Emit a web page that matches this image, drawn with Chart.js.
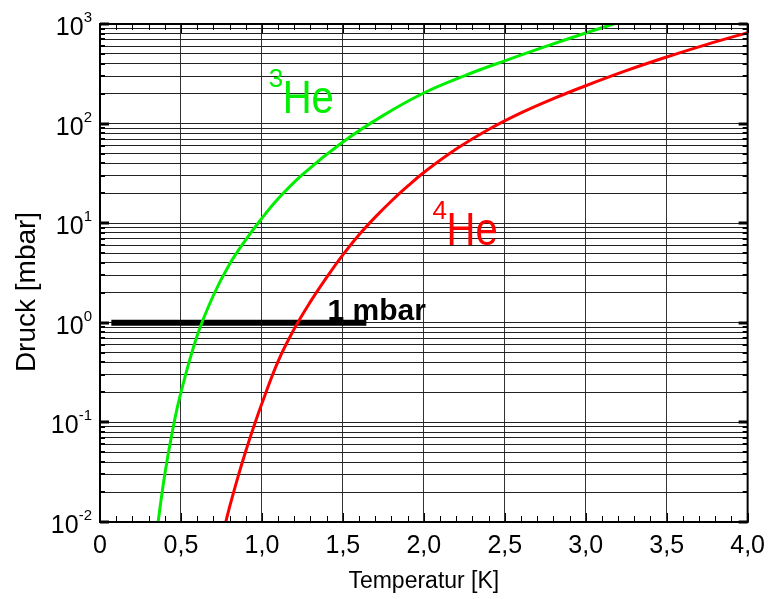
<!DOCTYPE html>
<html lang="de">
<head>
<meta charset="UTF-8">
<title>Dampfdruck 3He / 4He</title>
<script src="https://cdn.jsdelivr.net/npm/chart.js"></script>
<style>
    body { margin: 0; background: #fff; }
    .chart-container { position: relative; width: 774px; height: 599px; }
</style>
</head>
<body>
<div class="chart-container">
    <canvas id="chart"></canvas>
</div>
<script>
    const FONT = "'Liberation Sans', Arial, sans-serif";

    // Dampfdruck, Temperatur in K, Druck in mbar
    const tempHe3 = [0.35, 0.40, 0.45, 0.50, 0.60, 0.70, 0.80, 0.90, 1.00, 1.10, 1.25, 1.50, 1.75, 2.00, 2.25, 2.50, 2.75, 3.00, 3.20];
    const pressHe3 = [0.0078, 0.030, 0.086, 0.20, 0.74, 1.88, 3.87, 6.8, 11.2, 17.6, 30.8, 65.3, 121, 203, 302, 427, 593, 812, 1033];

    const tempHe4 = [0.77, 0.80, 0.85, 0.90, 0.95, 1.00, 1.10, 1.20, 1.30, 1.40, 1.50, 1.60, 1.70, 1.80, 1.90, 2.00, 2.20, 2.40, 2.60, 2.80, 3.00, 3.25, 3.50, 3.75, 4.00];
    const pressHe4 = [0.0090, 0.0141, 0.0276, 0.0513, 0.0908, 0.155, 0.41, 0.87, 1.63, 2.86, 4.8, 7.64, 11.5, 16.7, 23.5, 32.3, 55.5, 87.3, 128, 178, 240, 340, 466, 624, 820];

    // Markierung bei 1 mbar
    const tempMbar = [0.07, 1.645];
    const pressMbar = [1, 1];

    // Achsen
    const xMajorTicks = [0, 0.5, 1.0, 1.5, 2.0, 2.5, 3.0, 3.5, 4.0];
    const yDecades = [-2, -1, 0, 1, 2, 3];

    // Gitterlinien bei 1..9 x 10^n
    const yGridValues = [];
    yDecades.forEach((d, i) => {
        if (i === yDecades.length - 1) {
            yGridValues.push(Math.pow(10, d));
            return;
        }
        for (let m = 1; m <= 9; m++) {
            yGridValues.push(Number((m * Math.pow(10, d)).toPrecision(2)));
        }
    });

    function toPoints(xs, ys) {
        return xs.map((x, i) => ({x: x, y: ys[i]}));
    }

    // Rahmen, Ticks, Beschriftungen
    const decorPlugin = {
        id: 'decor',
        afterDraw(chart) {
            const ctx = chart.ctx;
            const a = chart.chartArea;
            const xs = chart.scales.x;
            const ys = chart.scales.y;
            ctx.save();
            ctx.strokeStyle = '#000';

            // kleine Ticks oben und unten
            ctx.lineWidth = 1;
            ctx.beginPath();
            for (let i = 0; i <= 40; i++) {
                const px = Math.round(xs.getPixelForValue(i / 10)) + 0.5;
                const len = i % 5 === 0 ? 9 : 6;
                ctx.moveTo(px, a.bottom);
                ctx.lineTo(px, a.bottom - len);
                ctx.moveTo(px, a.top);
                ctx.lineTo(px, a.top + len);
            }
            ctx.stroke();

            // Ticks links und rechts
            yGridValues.forEach(v => {
                const py = Math.round(ys.getPixelForValue(v));
                const major = yDecades.some(d => Math.abs(Math.pow(10, d) - v) < 1e-9);
                ctx.lineWidth = major ? 3 : 2;
                const len = major ? 9 : 5;
                ctx.beginPath();
                ctx.moveTo(a.left, py);
                ctx.lineTo(a.left + len, py);
                ctx.moveTo(a.right, py);
                ctx.lineTo(a.right - len, py);
                ctx.stroke();
            });

            // Rahmen
            ctx.lineWidth = 2;
            ctx.strokeRect(a.left, a.top, a.right - a.left, a.bottom - a.top);

            // y-Beschriftung 10^n
            ctx.fillStyle = '#000';
            ctx.textBaseline = 'alphabetic';
            yDecades.forEach(d => {
                const py = ys.getPixelForValue(Math.pow(10, d));
                const ex = String(d);
                ctx.font = '15px ' + FONT;
                const w = ctx.measureText(ex).width;
                const xr = a.left - 8 - w;
                ctx.textAlign = 'left';
                ctx.fillText(ex, xr, py - 2);
                ctx.font = '25px ' + FONT;
                ctx.textAlign = 'right';
                ctx.fillText('10', xr, py + 11);
            });

            // Achsentitel
            ctx.textAlign = 'center';
            ctx.font = '23px ' + FONT;
            ctx.fillText('Temperatur [K]', (a.left + a.right) / 2, 588);
            ctx.save();
            ctx.translate(35, 292);
            ctx.rotate(-Math.PI / 2);
            ctx.font = '28px ' + FONT;
            ctx.fillText('Druck [mbar]', 0, 0);
            ctx.restore();

            // 1 mbar
            ctx.textAlign = 'left';
            ctx.font = 'bold 30px ' + FONT;
            ctx.fillText('1 mbar', xs.getPixelForValue(1.405), ys.getPixelForValue(1) - 3);

            // Isotopen-Bezeichnungen
            function isotope(mass, t, p, color) {
                const x = xs.getPixelForValue(t);
                const y = ys.getPixelForValue(p);
                ctx.fillStyle = color;
                ctx.font = '26px ' + FONT;
                ctx.fillText(mass, x - 14, y - 26);
                ctx.save();
                ctx.translate(x, y);
                ctx.scale(0.87, 1);
                ctx.font = '46px ' + FONT;
                ctx.fillText('He', 0, 0);
                ctx.restore();
            }
            isotope('3', 1.128, 128, '#00ee00');
            isotope('4', 2.14, 6.1, '#ff0000');

            ctx.restore();
        }
    };

    const ctx = document.getElementById('chart').getContext('2d');
    const chart = new Chart(ctx, {
        type: 'line',
        data: {
            datasets: [
                {
                    label: '3He',
                    data: toPoints(tempHe3, pressHe3),
                    borderColor: '#00ee00',
                    borderWidth: 3,
                    pointRadius: 0,
                    tension: 0.4,
                    fill: false,
                    order: 1
                },
                {
                    label: '4He',
                    data: toPoints(tempHe4, pressHe4),
                    borderColor: '#ff0000',
                    borderWidth: 3,
                    pointRadius: 0,
                    tension: 0.4,
                    fill: false,
                    order: 1
                },
                {
                    label: '1 mbar',
                    data: toPoints(tempMbar, pressMbar),
                    borderColor: '#000',
                    borderWidth: 6,
                    pointRadius: 0,
                    fill: false,
                    order: 3
                }
            ]
        },
        options: {
            responsive: true,
            maintainAspectRatio: false,
            animation: false,
            layout: {
                padding: {top: 24, right: 25, left: 0, bottom: 0}
            },
            plugins: {
                legend: {display: false},
                tooltip: {enabled: false}
            },
            scales: {
                x: {
                    type: 'linear',
                    min: 0,
                    max: 4,
                    afterBuildTicks: s => { s.ticks = xMajorTicks.map(v => ({value: v})); },
                    afterFit: s => { s.height = 77; },
                    grid: {color: '#333', lineWidth: 1, drawTicks: false},
                    border: {display: false},
                    ticks: {
                        color: '#000',
                        font: {family: FONT, size: 25},
                        padding: 9,
                        maxRotation: 0,
                        autoSkip: false,
                        callback: v => v === 0 ? '0' : v.toFixed(1).replace('.', ',')
                    }
                },
                y: {
                    type: 'logarithmic',
                    min: 0.01,
                    max: 1000,
                    afterBuildTicks: s => { s.ticks = yGridValues.map(v => ({value: v})); },
                    afterFit: s => { s.width = 100; },
                    grid: {color: '#222', lineWidth: 1, drawTicks: false},
                    border: {display: false},
                    ticks: {display: false}
                }
            }
        },
        plugins: [decorPlugin]
    });
</script>
</body>
</html>
